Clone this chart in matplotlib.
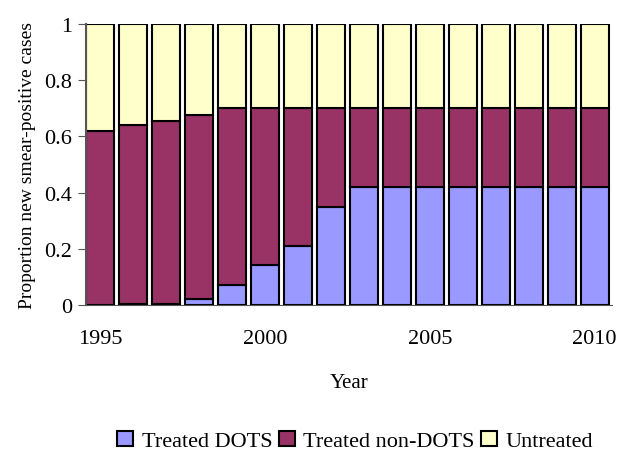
import matplotlib
matplotlib.use('Agg')
import matplotlib.pyplot as plt
import numpy as np

plt.rcParams['font.family'] = ['Liberation Serif', 'DejaVu Serif']

years = list(range(1995, 2011))
dots = [0.0, 0.005, 0.005, 0.02, 0.071, 0.142, 0.21, 0.349,
        0.42, 0.42, 0.42, 0.42, 0.42, 0.42, 0.42, 0.42]
non_dots_top = [0.62, 0.642, 0.656, 0.676, 0.70, 0.70, 0.70, 0.70,
                0.70, 0.70, 0.70, 0.70, 0.70, 0.70, 0.70, 0.70]
non_dots = [t - d for t, d in zip(non_dots_top, dots)]
untreated = [1 - t for t in non_dots_top]

fig = plt.figure(figsize=(6.18, 4.56), dpi=100)
ax = fig.add_axes([0.139, 0.329, 0.851, 0.616])

x = np.arange(len(years))
w = 0.85
ax.bar(x, dots, w, color='#9999FF', edgecolor='black', linewidth=1.5, label='Treated DOTS')
ax.bar(x, non_dots, w, bottom=dots, color='#993366', edgecolor='black', linewidth=1.5,
       label='Treated non-DOTS')
ax.bar(x, untreated, w, bottom=non_dots_top, color='#FFFFCC', edgecolor='black', linewidth=1.5,
       label='Untreated')

ax.set_xlim(-0.43, 15.52)
ax.set_ylim(0, 1)
ax.set_yticks([0, 0.2, 0.4, 0.6, 0.8, 1])
ax.set_yticklabels(['0', '0.2', '0.4', '0.6', '0.8', '1'])
ax.set_xticks([0, 5, 10, 15])
ax.set_xticklabels(['1995', '2000', '2005', '2010'])
ax.tick_params(axis='both', labelsize=16)
ax.tick_params(axis='x', length=0, pad=17)
ax.tick_params(axis='y', length=6, color='#555555', pad=4)
for s in ['top', 'right']:
    ax.spines[s].set_visible(False)
ax.spines['left'].set_color('#555555')
ax.spines['left'].set_linewidth(1.5)
ax.spines['bottom'].set_color('#555555')

ax.set_ylabel('Proportion new smear-positive cases', fontsize=14, labelpad=6)
ax.set_xlabel('Year', fontsize=15, labelpad=18)

fig.legend(loc='center', bbox_to_anchor=(0.575, 0.031), ncol=3, frameon=False,
           fontsize=16, handlelength=0.7, handleheight=0.7, handletextpad=0.4,
           columnspacing=0.3)

fig.savefig('out.png', dpi=100)
